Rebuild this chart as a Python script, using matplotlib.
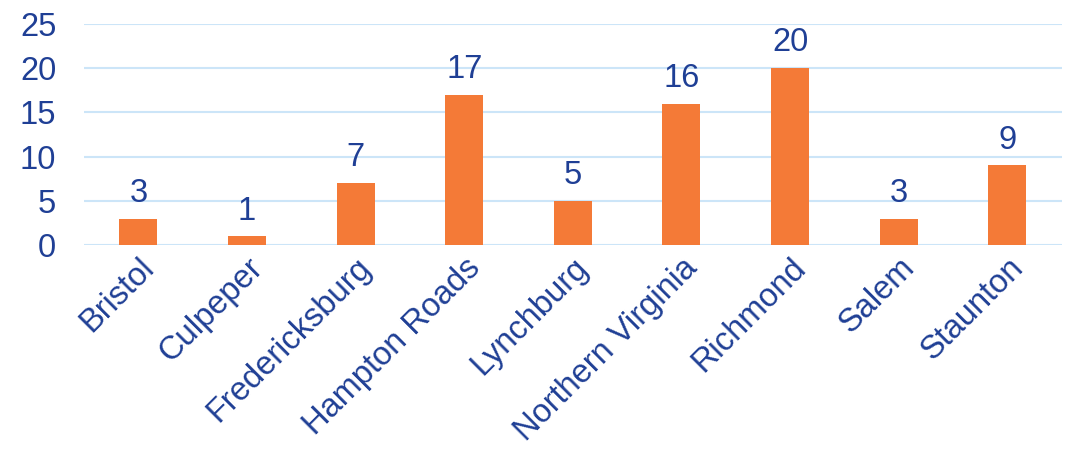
import numpy as np
import matplotlib.pyplot as plt

plt.rcParams['font.family'] = ['Liberation Sans', 'DejaVu Sans']

offices = ['Bristol', 'Culpeper', 'Fredericksburg', 'Hampton Roads', 'Lynchburg',
           'Northern Virginia', 'Richmond', 'Salem', 'Staunton']
counts = [3, 1, 7, 17, 5, 16, 20, 3, 9]

text_color = '#1F3F95'
bar_color = '#F47A37'
grid_color = '#CCE5F8'

fig = plt.figure(figsize=(10.68, 4.53), dpi=100)
ax = fig.add_axes([0.0787, 0.459, 0.9153, 0.488])

x = np.arange(len(offices))
bars = ax.bar(x, counts, width=0.35, color=bar_color, zorder=3)
for xi, v in zip(x, counts):
    ax.annotate(str(v), (xi, v), xytext=(0, 7), textcoords='offset points',
                ha='center', va='bottom', fontsize=23.5, color=text_color)

ax.set_xlim(-0.5, len(offices) - 0.5)
ax.set_ylim(0, 25)
ax.set_yticks(range(0, 26, 5))
ax.yaxis.grid(True, color=grid_color, lw=1.5, zorder=0)
ax.set_xticks(x)
ax.set_xticklabels(offices, rotation=45, ha='right', rotation_mode='anchor',
                   fontsize=23.5, color=text_color)
ax.tick_params(axis='y', labelsize=23.5, labelcolor=text_color, length=0, pad=20)
ax.tick_params(axis='x', length=0, pad=5)
for s in ax.spines.values():
    s.set_visible(False)

fig.savefig('out.png', dpi=100)
